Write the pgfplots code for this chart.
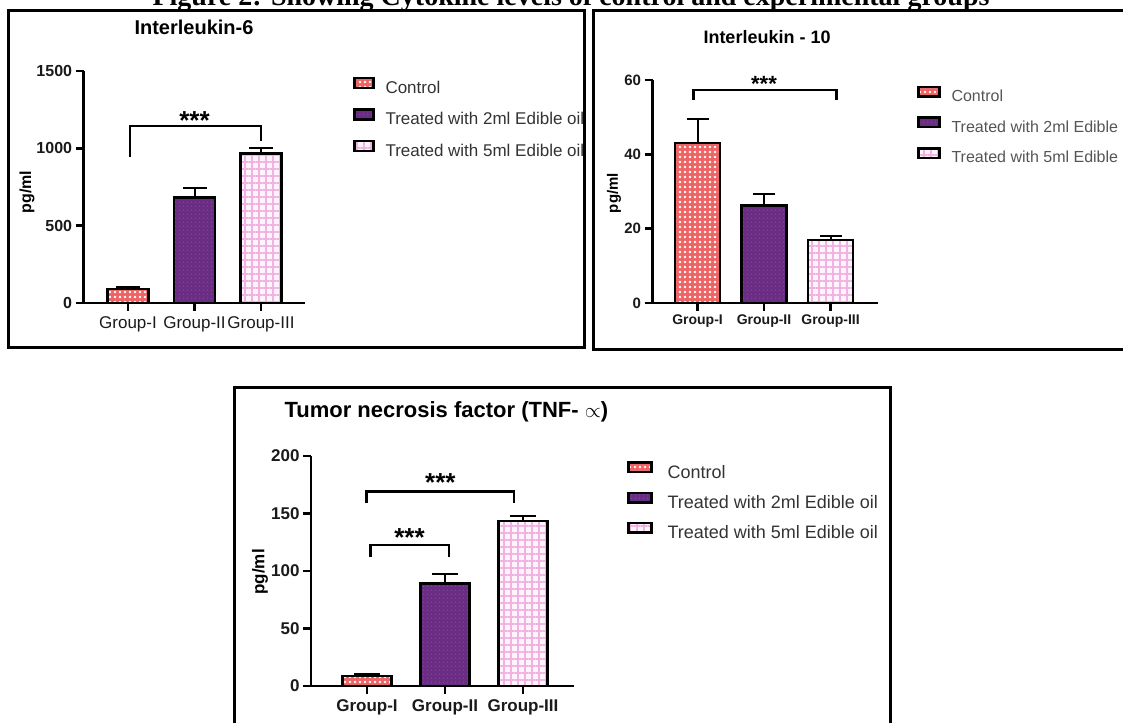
\documentclass[border=0pt]{standalone}
\usepackage{fontspec}
\setmainfont{Liberation Sans}
\newfontfamily\capfont{Liberation Serif}
\usepackage{pgfplots}
\pgfplotsset{compat=1.18}
\usetikzlibrary{patterns.meta}
\newcommand{\fs}[1]{\fontsize{#1}{#1}\selectfont}
\definecolor{ctrl}{HTML}{EE6464}
\definecolor{grpii}{HTML}{6B2C84}
\definecolor{grpiidot}{HTML}{8447A0}
\definecolor{grpiii}{HTML}{FFF3FC}
\definecolor{grpiiigrid}{HTML}{F0B2E0}
\definecolor{legtext}{HTML}{333333}
\definecolor{legtextb}{HTML}{555555}
\definecolor{ticktext}{HTML}{1A1A1A}
\pgfplotsset{
  ctrlbar/.style={fill=ctrl, draw=black, line width=2.5pt, postaction={pattern={Dots[distance=5pt,radius=1.3pt]},pattern color=white}},
  twobar/.style={fill=grpii, draw=black, line width=2.5pt, postaction={pattern={Dots[distance=4pt,radius=0.8pt]},pattern color=grpiidot}},
  fivebar/.style={fill=grpiii, draw=black, line width=2.5pt, postaction={pattern={Hatch[distance=7pt,line width=2pt]},pattern color=grpiiigrid}},
  errb/.style={/pgfplots/error bars/y dir=plus, /pgfplots/error bars/y explicit, /pgfplots/error bars/error bar style={line width=2pt,black}, /pgfplots/error bars/error mark options={rotate=90,mark size=#1,line width=2pt,black}},
  bracket/.style={sharp plot, black, line width=2.8pt, forget plot, mark=none},
  panel/.style={scale only axis, clip=false, axis lines=left, axis line style={-, line width=2.6pt, black},
    ybar, bar shift=0pt, ymin=0, xtick={0,1,2}, xticklabels={Group-I,Group-II,Group-III},
    tick align=outside, major tick length=8pt, tick style={line width=2.4pt, black},
    /pgf/number format/assume math mode=true, /pgf/number format/set thousands separator={},
    tick label style={text=ticktext}, legend cell align=left},
}
\begin{document}
\begin{tikzpicture}
\path[use as bounding box] (0pt,0pt) rectangle (1123pt,722pt);
% figure caption (cut at top)
\node[font=\capfont\bfseries\fs{28}, anchor=base, inner sep=0pt] at (571pt,716pt) {Figure 2: Showing Cytokine levels of control and experimental groups};
% panel borders
\draw[line width=3pt] (8pt,711pt) rectangle (584pt,374pt);
\draw[line width=3pt] (593pt,711pt) rectangle (1135pt,372pt);
\draw[line width=3pt] (234pt,334pt) rectangle (890pt,-10pt);

% ---------- Panel 1: Interleukin-6
\begin{axis}[panel, at={(83.6pt,419pt)}, anchor=south west, width=221.4pt, height=232pt,
  xmin=-0.668, xmax=2.662, ymax=1500, ytick={0,500,1000,1500}, bar width=41pt,
  yticklabel style={font=\bfseries\fs{16}}, xticklabel style={font=\fs{17}, yshift=-2pt},
  ylabel={pg/ml}, ylabel style={font=\bfseries\fs{16}, at={(axis description cs:-0.2556,0.478)}, anchor=center},
  title={Interleukin-6}, title style={font=\bfseries\fs{20}, at={(axis description cs:0.4986,1.1638)}, anchor=center},
  legend style={draw=none, fill=none, inner sep=0pt, outer sep=0pt, at={(axis description cs:1.2168,0.9741)}, anchor=north west,
    row sep=11.5pt, font=\fs{17}, nodes={inner sep=0pt, text=legtext, text height=12pt, text depth=3.5pt},
    /tikz/every odd column/.append style={column sep=11pt}},
  legend image code/.code={\draw[#1,draw=black,line width=2.5pt] (0pt,1pt) rectangle (19pt,11pt);},
]
\addplot[ctrlbar, bar shift=0pt, errb=12pt] coordinates {(0,90) +- (0,13)};
\addplot[twobar, bar shift=0pt, errb=12pt] coordinates {(1,682) +- (0,64)};
\addplot[fivebar, bar shift=0pt, errb=12pt] coordinates {(2,968) +- (0,32)};
\addplot[bracket] coordinates {(0.03,946) (0.03,1144) (2,1144) (2,1049)};
\node[font=\bfseries\fs{26}, yshift=-5.6pt] at (axis cs:1,1215) {***};
\legend{Control, Treated with 2ml Edible oil, Treated with 5ml Edible oil}
\end{axis}

% ---------- Panel 2: Interleukin - 10
\begin{axis}[panel, at={(652.5pt,419pt)}, anchor=south west, width=225.5pt, height=223pt,
  xmin=-0.677, xmax=2.714, ymax=60, ytick={0,20,40,60}, bar width=45pt,
  yticklabel style={font=\bfseries\fs{15}}, xticklabel style={font=\bfseries\fs{14}},
  ylabel={pg/ml}, ylabel style={font=\bfseries\fs{15}, at={(axis description cs:-0.1707,0.493)}, anchor=center},
  title={Interleukin - 10}, title style={font=\bfseries\fs{18}, at={(axis description cs:0.5078,1.166)}, anchor=center},
  legend style={draw=none, fill=none, inner sep=0pt, outer sep=0pt, at={(axis description cs:1.173,0.975)}, anchor=north west,
    row sep=11.5pt, font=\fs{16}, nodes={inner sep=0pt, text=legtextb, text height=11.5pt, text depth=3.5pt},
    /tikz/every odd column/.append style={column sep=11pt}},
  legend image code/.code={\draw[#1,draw=black,line width=2.5pt] (0pt,1pt) rectangle (21pt,10.5pt);},
]
\addplot[ctrlbar, bar shift=0pt, errb=11pt] coordinates {(0,43.0) +- (0,6.5)};
\addplot[twobar, bar shift=0pt, errb=11pt] coordinates {(1,26.2) +- (0,3.1)};
\addplot[fivebar, bar shift=0pt, errb=11pt] coordinates {(2,17.0) +- (0,0.9)};
\addplot[bracket] coordinates {(-0.06,54.6) (-0.06,57.3) (2.09,57.3) (2.09,54.6)};
\node[font=\bfseries\fs{22}, yshift=-4.7pt] at (axis cs:1,60.3) {***};
\legend{Control, Treated with 2ml Edible oil, Treated with 5ml Edible oil}
\end{axis}

% ---------- Panel 3: TNF-alpha
\begin{axis}[panel, at={(311pt,36pt)}, anchor=south west, width=263pt, height=230pt,
  xmin=-0.718, xmax=2.654, ymax=200, ytick={0,50,100,150,200}, bar width=49pt,
  yticklabel style={font=\bfseries\fs{17}}, xticklabel style={font=\bfseries\fs{17}, yshift=-2pt},
  ylabel={pg/ml}, ylabel style={font=\bfseries\fs{17}, at={(axis description cs:-0.194,0.496)}, anchor=center},
  title={Tumor necrosis factor (TNF- $\propto$)}, title style={font=\bfseries\fs{22}, at={(axis description cs:-0.114,1.165)}, anchor=west},
  legend style={draw=none, fill=none, inner sep=0pt, outer sep=0pt, at={(axis description cs:1.2015,0.9765)}, anchor=north west,
    row sep=9.5pt, font=\fs{18}, nodes={inner sep=0pt, text=legtext, text height=13pt, text depth=4pt},
    /tikz/every odd column/.append style={column sep=15pt}},
  legend image code/.code={\draw[#1,draw=black,line width=2.5pt] (0pt,1.5pt) rectangle (23pt,11pt);},
]
\addplot[ctrlbar, bar shift=0pt, errb=13pt] coordinates {(0,8.7) +- (0,1.4)};
\addplot[twobar, bar shift=0pt, errb=13pt] coordinates {(1,89.1) +- (0,8.7)};
\addplot[fivebar, bar shift=0pt, errb=13pt] coordinates {(2,143.6) +- (0,4.3)};
\addplot[bracket] coordinates {(-0.01,158.9) (-0.01,169) (1.885,169) (1.885,158.9)};
\addplot[bracket] coordinates {(0.04,112.4) (0.04,122.6) (1.05,122.6) (1.05,112.4)};
\node[font=\bfseries\fs{26}, yshift=-5.6pt] at (axis cs:0.94,181.5) {***};
\node[font=\bfseries\fs{26}, yshift=-5.6pt] at (axis cs:0.545,134.2) {***};
\legend{Control, Treated with 2ml Edible oil, Treated with 5ml Edible oil}
\end{axis}
\end{tikzpicture}
\end{document}
